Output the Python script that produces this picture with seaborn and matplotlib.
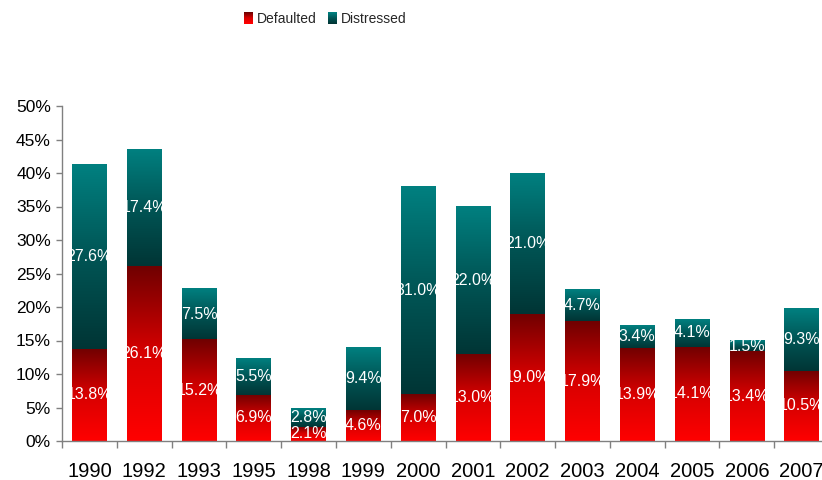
import numpy as np
import pandas as pd
import matplotlib
matplotlib.use("Agg")
import matplotlib.pyplot as plt
from matplotlib.colors import LinearSegmentedColormap
from matplotlib.legend_handler import HandlerBase
from matplotlib.patches import Rectangle, Patch
from matplotlib.ticker import FixedLocator, FuncFormatter
import seaborn as sns

years = ["1990", "1992", "1993", "1995", "1998", "1999", "2000",
         "2001", "2002", "2003", "2004", "2005", "2006", "2007"]
defaulted = [13.8, 26.1, 15.2, 6.9, 2.1, 4.6, 7.0,
             13.0, 19.0, 17.9, 13.9, 14.1, 13.4, 10.5]
distressed = [27.6, 17.4, 7.5, 5.5, 2.8, 9.4, 31.0,
              22.0, 21.0, 4.7, 3.4, 4.1, 1.5, 9.3]

sns.set_theme(style="white")
plt.rcParams["font.family"] = ["Liberation Sans", "DejaVu Sans"]

# bottom -> top colour ramps for each series
red_cmap = LinearSegmentedColormap.from_list("def", ["#ff0000", "#d80000", "#700000"])
teal_cmap = LinearSegmentedColormap.from_list("dis", ["#003535", "#005555", "#008080"])

df = pd.DataFrame({"Year": years, "Defaulted": defaulted, "Distressed": distressed})
df["Total"] = df["Defaulted"] + df["Distressed"]

fig = plt.figure(figsize=(8.22, 4.80), dpi=100)
ax = fig.add_axes([62 / 822, 39 / 480, 767 / 822, 335 / 480])

sns.barplot(data=df, x="Year", y="Total", color="#008080", width=0.63,
            saturation=1, ax=ax)
sns.barplot(data=df, x="Year", y="Defaulted", color="#ff0000", width=0.63,
            saturation=1, ax=ax)

n = len(years)
total_patches = ax.patches[:n]
grad = np.linspace(0, 1, 256).reshape(-1, 1)
for i, p in enumerate(total_patches):
    x0, w = p.get_x(), p.get_width()
    d = df["Defaulted"].iloc[i]
    t = df["Total"].iloc[i]
    ax.imshow(grad, cmap=red_cmap, origin="lower", aspect="auto",
              extent=(x0, x0 + w, 0, d), zorder=2, interpolation="bilinear")
    ax.imshow(grad, cmap=teal_cmap, origin="lower", aspect="auto",
              extent=(x0, x0 + w, d, t), zorder=2, interpolation="bilinear")
    xc = x0 + w / 2
    ax.text(xc, d / 2, f"{d:.1f}%", color="white", ha="center", va="center",
            fontsize=11.5, zorder=3)
    ax.text(xc, d + (t - d) / 2, f"{t - d:.1f}%", color="white", ha="center",
            va="center", fontsize=11.5, zorder=3)
for p in ax.patches:
    p.set_visible(False)

ax.set_xlim(-0.5, n - 0.5)
ax.set_ylim(0, 50)
ax.set_xlabel("")
ax.set_ylabel("")

ax.yaxis.set_major_locator(FixedLocator(np.arange(0, 51, 5)))
ax.yaxis.set_major_formatter(FuncFormatter(lambda v, _: f"{v:.0f}%"))
ax.tick_params(axis="y", which="major", left=True, length=4, width=1,
               color="#808080", pad=4, labelsize=12.5, labelcolor="black")

ax.set_xticks(range(n))
ax.set_xticklabels(years)
ax.set_xticks(np.arange(-0.5, n, 1), minor=True)
ax.tick_params(axis="x", which="major", bottom=True, length=0, pad=15,
               labelsize=14.5, labelcolor="black")
ax.tick_params(axis="x", which="minor", bottom=True, length=5, width=1,
               color="#808080")

for side in ("top", "right"):
    ax.spines[side].set_visible(False)
for side in ("left", "bottom"):
    ax.spines[side].set_color("#808080")
    ax.spines[side].set_linewidth(1)


class GradientHandler(HandlerBase):
    def __init__(self, cmap, steps=12):
        super().__init__()
        self.cmap = cmap
        self.steps = steps

    def create_artists(self, legend, orig_handle, xdescent, ydescent,
                       width, height, fontsize, trans):
        arts = []
        h = height / self.steps
        for k in range(self.steps):
            arts.append(Rectangle((-xdescent, -ydescent + k * h), width, h * 1.02,
                                  facecolor=self.cmap(k / (self.steps - 1)),
                                  edgecolor="none", transform=trans))
        return arts


h_def = Patch(label="Defaulted")
h_dis = Patch(label="Distressed")
fig.legend(handles=[h_def, h_dis], labels=["Defaulted", "Distressed"],
           handler_map={h_def: GradientHandler(red_cmap), h_dis: GradientHandler(teal_cmap)},
           loc="center", bbox_to_anchor=(325 / 822, 1 - 19 / 480), ncol=2,
           frameon=False, fontsize=10, handlelength=0.65, handleheight=0.9,
           handletextpad=0.3, columnspacing=0.8, borderpad=0)

fig.savefig("out.png", dpi=100)
